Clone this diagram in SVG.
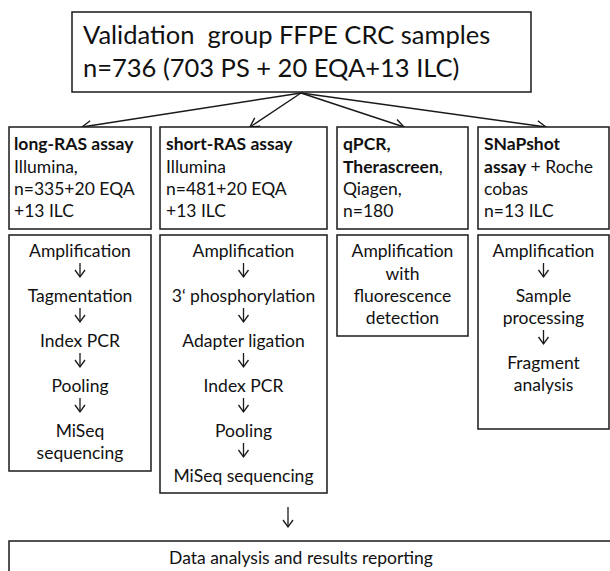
<svg xmlns="http://www.w3.org/2000/svg" width="610" height="571" viewBox="0 0 610 571">
<defs>
<marker id="open" markerWidth="14" markerHeight="14" refX="10" refY="6" orient="auto" markerUnits="userSpaceOnUse">
<path d="M1,1 L10,6 L1,11" fill="none" stroke="#1a1a1a" stroke-width="1.4"/>
</marker>
<marker id="down" markerWidth="14" markerHeight="14" refX="10" refY="6" orient="auto" markerUnits="userSpaceOnUse">
<path d="M3,1 L10,6 L3,11" fill="none" stroke="#1a1a1a" stroke-width="1.3"/>
</marker>
</defs>
<style>
rect{fill:#fff;stroke:#1a1a1a;stroke-width:1.5}
text{font-family:Lato,"Open Sans","Liberation Sans",sans-serif;fill:#111;font-size:17.5px}
.t{font-size:25.5px;white-space:pre}
.c{text-anchor:middle}
.b{font-weight:bold}
.con line{stroke:#1a1a1a;stroke-width:1.4;fill:none;marker-end:url(#open)}
.step{stroke:#1a1a1a;stroke-width:1.3;fill:none;marker-end:url(#down)}
</style>
<rect x="0" y="0" width="610" height="571" style="fill:#fff;stroke:none"/>

<g id="top">
<rect x="72" y="12" width="459" height="80"/>
<text class="t" x="83" y="44">Validation  group FFPE CRC samples</text>
<text class="t" x="83" y="77">n=736 (703 PS + 20 EQA+13 ILC)</text>
</g>

<g class="con" id="connectors">
<line x1="301" y1="93" x2="82" y2="127"/>
<line x1="301" y1="93" x2="250" y2="127"/>
<line x1="301" y1="93" x2="404" y2="127"/>
<line x1="301" y1="93" x2="546" y2="127"/>
</g>

<g id="longras">
<rect x="9" y="127" width="142" height="102"/>
<text x="14" y="150" class="b">long-RAS assay</text>
<text x="14" y="173">Illumina,</text>
<text x="14" y="195">n=335+20 EQA</text>
<text x="14" y="217">+13 ILC</text>
</g>
<g id="shortras">
<rect x="160" y="127" width="167" height="102"/>
<text x="166" y="150" class="b">short-RAS assay</text>
<text x="166" y="173">Illumina</text>
<text x="166" y="195">n=481+20 EQA</text>
<text x="166" y="217">+13 ILC</text>
</g>
<g id="qpcr">
<rect x="337" y="127" width="131" height="102"/>
<text x="343" y="150" class="b">qPCR,</text>
<text x="343" y="173"><tspan class="b">Therascreen</tspan>,</text>
<text x="343" y="195">Qiagen,</text>
<text x="343" y="217">n=180</text>
</g>
<g id="snapshot">
<rect x="478" y="127" width="131" height="102"/>
<text x="484" y="150" class="b">SNaPshot</text>
<text x="484" y="173"><tspan class="b">assay</tspan> + Roche</text>
<text x="484" y="195">cobas</text>
<text x="484" y="217">n=13 ILC</text>
</g>

<g id="longras-steps">
<rect x="9" y="235" width="142" height="236"/>
<text class="c" x="80" y="257">Amplification</text>
<path class="step" d="M80,263 V277"/>
<text class="c" x="80" y="302">Tagmentation</text>
<path class="step" d="M80,308 V322"/>
<text class="c" x="80" y="347">Index PCR</text>
<path class="step" d="M80,353 V367"/>
<text class="c" x="80" y="392">Pooling</text>
<path class="step" d="M80,398 V412"/>
<text class="c" x="80" y="437">MiSeq</text>
<text class="c" x="80" y="459">sequencing</text>
</g>

<g id="shortras-steps">
<rect x="160" y="235" width="167" height="258"/>
<text class="c" x="243.5" y="257">Amplification</text>
<path class="step" d="M243.5,263 V277"/>
<text class="c" x="243.5" y="302">3‘ phosphorylation</text>
<path class="step" d="M243.5,308 V322"/>
<text class="c" x="243.5" y="347">Adapter ligation</text>
<path class="step" d="M243.5,353 V367"/>
<text class="c" x="243.5" y="392">Index PCR</text>
<path class="step" d="M243.5,398 V412"/>
<text class="c" x="243.5" y="437">Pooling</text>
<path class="step" d="M243.5,443 V457"/>
<text class="c" x="243.5" y="482">MiSeq sequencing</text>
</g>

<g id="qpcr-steps">
<rect x="337" y="235" width="131" height="101"/>
<text class="c" x="402.5" y="257">Amplification</text>
<text class="c" x="402.5" y="280">with</text>
<text class="c" x="402.5" y="302">fluorescence</text>
<text class="c" x="402.5" y="324">detection</text>
</g>

<g id="snapshot-steps">
<rect x="478" y="235" width="131" height="194"/>
<text class="c" x="543.5" y="257">Amplification</text>
<path class="step" d="M543.5,263 V277"/>
<text class="c" x="543.5" y="302">Sample</text>
<text class="c" x="543.5" y="324">processing</text>
<path class="step" d="M543.5,330 V344"/>
<text class="c" x="543.5" y="369">Fragment</text>
<text class="c" x="543.5" y="391">analysis</text>
</g>

<g id="to-report">
<path class="step" d="M288,507 V527"/>
</g>

<g id="report">
<rect x="9" y="541" width="610" height="50"/>
<text class="c" x="301" y="564">Data analysis and results reporting</text>
</g>
</svg>
